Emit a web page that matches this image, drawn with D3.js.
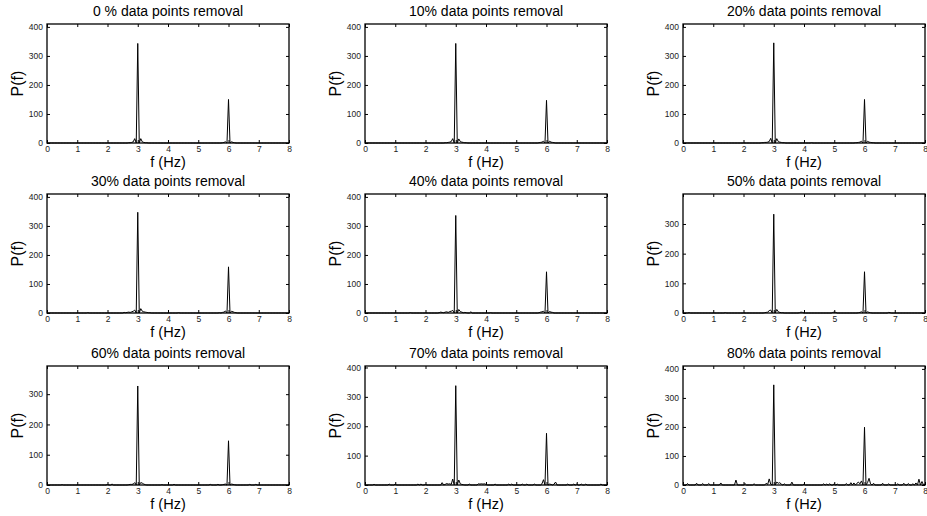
<!DOCTYPE html>
<html><head><meta charset="utf-8">
<script src="https://cdn.jsdelivr.net/npm/d3@7"></script>
<style>
body{margin:0;background:#fff}
text{font-family:"Liberation Sans",Arial,Helvetica,sans-serif}
</style>
</head><body>
<svg id="chart" width="927" height="516"></svg>
<script>
// ---------- data ----------
const titles = ["0 % data points removal","10% data points removal","20% data points removal",
  "30% data points removal","40% data points removal","50% data points removal",
  "60% data points removal","70% data points removal","80% data points removal"];
const freqStep = 0.05;           // Hz between spectrum samples (0 ... 8 Hz)
const xTicks = [0,1,2,3,4,5,6,7,8];
const yTicksFull = [0,100,200,300,400];
const yTicksShort = [0,100,200,300];
const yMaxes = [410,410,410,410,410,401,393,405,410];

const p00 = [
0,0,0,0,0, 0,0,0,0,0, 0,0,0,0,0, 0,0,0,0,0,
0,0,0,0,0, 0,0,0,0,0, 0,0,0,0,0, 0,0,0,0,0,
0,0,0,0,0, 0,0,0,0,0, 0,0,0,0,1, 1,2,4,15,0,
343,0,15,4,2, 1,1,0,0,0, 0,0,0,0,0, 0,0,0,0,0,
0,0,0,0,0, 0,0,0,0,0, 0,0,0,0,0, 0,0,0,0,0,
0,0,0,0,0, 0,0,0,0,0, 0,0,0,0,0, 0,1,2,4,0,
150,0,4,2,1, 0,0,0,0,0, 0,0,0,0,0, 0,0,0,0,0,
0,0,0,0,0, 0,0,0,0,0, 0,0,0,0,0, 0,0,0,0,0,
0];
const p10 = [
0,0,0,0,0, 0,0,0,0,0, 0,0,0,0,0, 0,0,0,0,0,
0,0,0,0,0, 0,0,0,0,0, 0,0,0,0,0, 0,0,0,0,0,
0,0,0,0,0, 0,0,0,0,0, 0,0,0,1,1, 2,3,5,15,0,
343,0,14,5,3, 2,1,1,0,0, 0,0,0,0,0, 0,0,0,0,0,
0,0,0,0,0, 0,0,0,0,0, 0,0,0,0,0, 0,0,0,0,0,
0,0,0,0,0, 0,0,0,0,0, 0,0,0,0,0, 1,2,3,6,0,
147,0,6,3,2, 1,0,0,0,0, 0,0,0,0,0, 0,0,0,0,0,
0,0,0,0,0, 0,0,0,0,0, 0,0,0,0,0, 0,0,0,0,0,
0];
const p20 = [
0,0,0,0,0, 0,0,0,0,0, 0,0,0,0,0, 0,0,0,0,0,
0,0,0,0,0, 0,0,0,0,0, 0,0,0,0,0, 0,0,0,0,0,
0,0,0,0,0, 0,0,0,0,0, 0,0,1,1,2, 2,3,5,16,0,
345,0,15,5,3, 2,1,1,0,0, 0,0,0,0,0, 0,0,0,0,0,
0,0,0,0,0, 1,0,0,0,0, 0,0,0,0,0, 0,0,0,0,0,
0,0,0,0,0, 0,0,0,0,0, 0,0,0,0,1, 1,2,3,6,0,
150,0,6,3,2, 1,1,0,0,0, 0,0,0,0,0, 0,0,0,0,0,
0,0,0,0,0, 0,0,0,0,0, 0,0,0,0,0, 0,0,0,0,0,
0];
const p30 = [
0,0,0,0,0, 0,0,0,0,0, 0,0,0,0,0, 0,0,0,0,0,
0,0,0,0,0, 0,0,1,0,0, 0,0,0,0,0, 0,0,0,0,0,
0,0,0,0,0, 0,0,0,0,0, 0,2,1,2,3, 2,4,6,10,0,
347,0,15,6,4, 3,2,1,1,0, 0,0,0,0,0, 0,0,0,0,0,
0,0,0,0,0, 0,0,1,0,0, 0,0,0,0,0, 0,0,0,0,0,
0,0,0,0,0, 0,0,0,0,0, 0,0,0,0,1, 0,2,3,7,0,
159,0,6,4,2, 1,0,0,0,0, 0,0,0,0,0, 0,0,0,0,0,
0,0,0,0,0, 0,0,0,0,0, 0,0,0,0,0, 0,0,0,0,0,
0];
const p40 = [
0,0,0,0,0, 0,0,0,0,0, 0,0,0,0,0, 0,0,0,0,0,
0,0,0,0,0, 0,0,0,0,0, 1,0,0,0,0, 0,0,0,0,0,
0,0,0,0,0, 0,0,0,0,1, 3,2,1,3,4, 2,5,6,9,0,
336,0,12,5,3, 1,2,1,0,0, 4,0,0,0,0, 0,0,0,0,0,
0,0,0,1,0, 0,0,0,0,0, 0,0,0,0,0, 0,0,0,0,0,
0,0,0,0,0, 0,0,0,0,0, 0,0,0,0,0, 1,3,4,6,0,
142,0,5,3,2, 0,0,0,0,0, 0,0,0,0,0, 0,0,0,0,0,
0,0,0,0,0, 0,0,0,0,0, 0,0,0,0,0, 0,0,0,0,0,
0];
const p50 = [
0,0,0,0,1, 0,0,0,0,0, 0,0,0,0,0, 0,0,0,0,0,
0,0,0,0,0, 0,0,0,1,0, 0,0,0,0,0, 0,0,0,0,0,
0,0,0,0,0, 0,0,0,0,0, 0,0,0,0,1, 2,3,8,10,0,
333,0,12,4,2, 1,1,0,0,0, 0,0,0,0,0, 0,0,1,3,2,
0,0,0,0,0, 0,0,0,0,0, 0,0,0,0,0, 0,0,0,0,2,
3,2,0,0,0, 0,0,0,0,0, 0,0,0,0,0, 0,1,2,4,0,
139,0,4,2,1, 0,0,0,0,0, 0,0,0,0,0, 0,2,1,0,0,
0,0,0,0,0, 0,0,0,0,0, 0,0,0,0,0, 0,0,0,0,0,
0];
const p60 = [
0,0,0,0,0, 0,0,0,0,0, 1,0,0,0,0, 0,0,0,0,0,
0,0,0,0,0, 0,0,0,0,0, 0,0,0,0,0, 0,0,0,0,0,
2,0,0,3,0, 0,0,0,0,0, 0,0,0,0,1, 2,2,3,8,0,
327,0,8,6,3, 1,0,0,0,0, 0,0,0,0,0, 0,1,0,0,0,
0,0,0,0,2, 0,0,0,0,0, 0,0,0,0,0, 0,0,0,0,0,
0,0,0,0,0, 0,0,0,2,0, 0,0,0,2,0, 0,1,2,3,0,
146,0,3,2,1, 0,0,0,0,0, 0,0,0,0,2, 0,0,0,2,0,
0,0,0,0,0, 0,0,0,0,0, 0,0,0,0,0, 0,0,0,0,0,
2];
const p70 = [
0,0,0,0,0, 0,2,0,0,0, 0,0,0,0,0, 0,3,0,0,0,
3,0,0,0,0, 0,0,0,0,0, 0,0,0,0,0, 3,0,3,0,0,
2,0,0,0,0, 0,0,0,0,0, 0,8,0,2,5, 3,4,2,20,0,
338,0,17,4,2, 1,0,0,0,3, 0,0,0,0,0, 4,3,4,3,4,
2,0,0,0,0, 0,3,0,0,0, 0,0,0,0,0, 3,0,3,0,0,
0,0,0,0,3, 0,0,3,0,0, 0,0,3,0,0, 0,0,4,18,0,
176,0,3,2,0, 3,10,0,0,0, 0,0,0,0,3, 0,0,0,3,0,
3,0,0,3,0, 0,3,0,0,0, 0,0,0,0,0, 0,3,0,0,0,
0];
const p80 = [
0,0,0,5,0, 0,0,0,0,6, 0,0,0,5,0, 0,0,5,0,0,
0,0,0,0,0, 7,0,0,0,0, 0,0,0,0,0, 17,0,0,0,0,
0,5,0,0,0, 0,0,4,0,0, 0,0,0,0,0, 6,2,21,3,0,
345,0,10,6,8, 3,0,4,0,0, 0,0,10,0,0, 0,0,0,0,0,
3,0,0,0,0, 0,0,0,0,0, 0,0,0,4,0, 3,0,4,0,0,
4,0,3,0,0, 0,0,0,5,0, 0,8,0,7,0, 6,10,4,14,0,
199,0,8,23,4, 0,6,0,0,0, 0,0,6,0,0, 0,4,0,0,0,
0,0,4,0,0, 0,6,0,0,5, 0,0,4,0,7, 0,20,0,12,0,
3];
const spectra = [p00,p10,p20,p30,p40,p50,p60,p70,p80];
const yTickSets = [yTicksFull,yTicksFull,yTicksFull,yTicksFull,yTicksFull,yTicksShort,yTicksShort,yTicksFull,yTicksFull];

// ---------- layout ----------
const colLefts = [47, 365, 683];
const rowTops = [24, 194, 366];
const W = 242, H = 119;

const svg = d3.select("#chart");

spectra.forEach((vals, k) => {
  const col = k % 3, row = Math.floor(k / 3);
  const g = svg.append("g").attr("transform", `translate(${colLefts[col]},${rowTops[row]})`);
  const x = d3.scaleLinear().domain([0, 8]).range([0, W]);
  const y = d3.scaleLinear().domain([0, yMaxes[k]]).range([H, 0]);

  // axes (ticks inside, MATLAB style)
  const bottom = g.append("g").attr("transform", `translate(0,${H})`)
    .call(d3.axisBottom(x).tickValues(xTicks).tickSizeInner(-3).tickSizeOuter(0).tickPadding(3).tickFormat(d3.format("d")));
  const top = g.append("g")
    .call(d3.axisTop(x).tickValues(xTicks).tickSizeInner(-3).tickSizeOuter(0).tickFormat(""));
  const left = g.append("g")
    .call(d3.axisLeft(y).tickValues(yTickSets[k]).tickSizeInner(-3).tickSizeOuter(0).tickPadding(4).tickFormat(d3.format("d")));
  const right = g.append("g").attr("transform", `translate(${W},0)`)
    .call(d3.axisRight(y).tickValues(yTickSets[k]).tickSizeInner(-3).tickSizeOuter(0).tickFormat(""));
  [bottom, top, left, right].forEach(a => {
    a.select(".domain").remove();
    a.selectAll("line").attr("stroke", "#000").attr("stroke-width", 1);
    a.selectAll("text").attr("font-size", 8.5).attr("fill", "#222")
      .attr("font-family", '"Liberation Sans",Arial,sans-serif');
  });

  // spectrum line
  const line = d3.line().x((d, i) => x(i * freqStep)).y(d => y(d));
  g.append("path").datum(vals).attr("d", line)
    .attr("fill", "none").attr("stroke", "#000").attr("stroke-width", 1).attr("stroke-linejoin", "miter");

  // box
  g.append("rect").attr("x", 0).attr("y", 0).attr("width", W).attr("height", H)
    .attr("fill", "none").attr("stroke", "#000").attr("stroke-width", 1.3);

  // labels
  g.append("text").attr("x", W / 2).attr("y", -8.5).attr("text-anchor", "middle")
    .attr("font-size", 14).attr("fill", "#000").text(titles[k]);
  g.append("text").attr("x", W / 2).attr("y", H + 24).attr("text-anchor", "middle")
    .attr("font-size", 14.5).attr("fill", "#000").text("f (Hz)");
  g.append("text").attr("transform", "rotate(-90)").attr("x", -H / 2).attr("y", -24)
    .attr("text-anchor", "middle").attr("font-size", 16).attr("fill", "#000").text("P(f)");
});
</script>
</body></html>
